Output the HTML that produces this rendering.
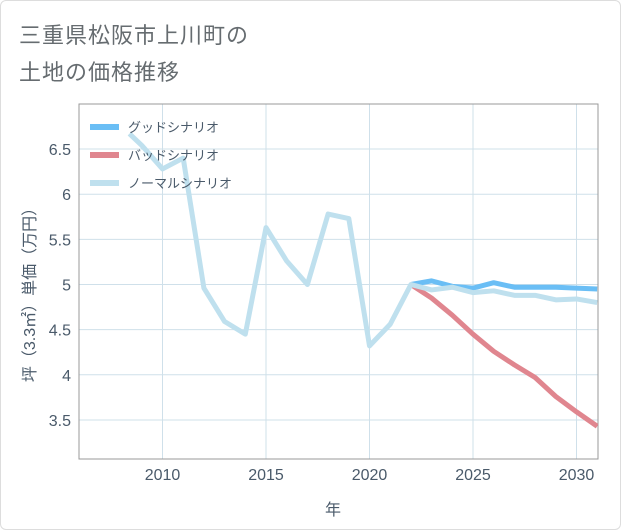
<!DOCTYPE html>
<html><head><meta charset="utf-8"><style>
body{margin:0;background:#fff;}
#card{position:absolute;left:0;top:0;width:619px;height:528px;border:1px solid #ddd;border-radius:6px;background:#fff;}
.t{position:absolute;left:18px;font:22px "Liberation Sans","Noto Sans CJK JP",sans-serif;color:#666c70;letter-spacing:1px;}
svg text{font-family:"Liberation Sans","Noto Sans CJK JP",sans-serif;}
</style></head><body>
<div id="card">
<div class="t" style="top:17px">三重県松阪市上川町の</div>
<div class="t" style="top:54px">土地の価格推移</div>
<svg id="s" width="621" height="530" style="position:absolute;left:0;top:0"></svg>
</div>
<script>
const normalYears=[2008.4,2009,2010,2011,2012,2013,2014,2015,2016,2017,2018,2019,2020,2021,2022,2023,2024,2025,2026,2027,2028,2029,2030,2031];
const normalVals=[6.67,6.54,6.28,6.4,4.96,4.59,4.45,5.63,5.26,5.0,5.78,5.73,4.32,4.56,5.0,4.94,4.97,4.91,4.93,4.88,4.88,4.83,4.84,4.8];
const futureYears=[2022,2023,2024,2025,2026,2027,2028,2029,2030,2031];
const goodVals=[5.0,5.04,4.98,4.96,5.02,4.97,4.97,4.97,4.96,4.95];
const badVals=[5.0,4.85,4.66,4.45,4.26,4.11,3.97,3.76,3.59,3.43];
const xTicks=[2010,2015,2020,2025,2030];
const yTicks=[3.5,4,4.5,5,5.5,6,6.5];
const L=78,R=597,T=103,B=458;
const X=v=>161.5+(v-2010)*20.7;
const Y=v=>283.5-(v-5)*90.3;
const s=document.getElementById('s');const NS='http://www.w3.org/2000/svg';
function el(t,a,p){const e=document.createElementNS(NS,t);for(const k in a)e.setAttribute(k,a[k]);(p||s).appendChild(e);return e;}
xTicks.forEach(v=>{const l=el('line',{x1:X(v),x2:X(v),y1:T,y2:B,stroke:'#cfe0ea','stroke-width':1});

const t=el('text',{x:X(v),y:479,'text-anchor':'middle','font-size':16,fill:'#4a5a6a'});t.textContent=v;
});
yTicks.forEach(v=>{const l=el('line',{x1:L,x2:R,y1:Y(v),y2:Y(v),stroke:'#cfe0ea','stroke-width':1});

const t=el('text',{x:70,y:Y(v)+6,'text-anchor':'end','font-size':16,fill:'#4a5a6a'});t.textContent=v;
});
const fr=el('rect',{x:L,y:T,width:R-L,height:B-T,fill:'none',stroke:'#999','stroke-width':1});

const cp=el('clipPath',{id:'c'});el('rect',{x:L,y:T,width:R-L,height:B-T},cp);
function line(xs,ys,c,n){const p=el('polyline',{points:xs.map((x,i)=>X(x)+','+Y(ys[i])).join(' '),fill:'none',stroke:c,'stroke-width':5,'stroke-linejoin':'round','clip-path':'url(#c)'});
}
line(futureYears,badVals,'#e0868f','bad-scenario-line');
line(futureYears,goodVals,'#6abef5','good-scenario-line');
line(normalYears,normalVals,'#bfe0ee','normal-scenario-line');
[['グッドシナリオ','#6abef5'],['バッドシナリオ','#e0868f'],['ノーマルシナリオ','#bfe0ee']].forEach((d,i)=>{
const y=126+i*28;const g=el('g',{});
el('rect',{x:89,y:y-3,width:29,height:6,fill:d[1]},g);
const t=el('text',{x:127,y:y+5,'font-size':13,fill:'#4a5a6a'},g);t.textContent=d[0];});
const xt=el('text',{x:332,y:514,'text-anchor':'middle','font-size':16,fill:'#4a5a6a'});xt.textContent='年';

const yt=el('text',{x:0,y:0,'text-anchor':'middle','font-size':16,fill:'#4a5a6a',transform:'translate(34,290) rotate(-90)'});yt.textContent='坪（3.3㎡）単価（万円）';

</script>
</body></html>
